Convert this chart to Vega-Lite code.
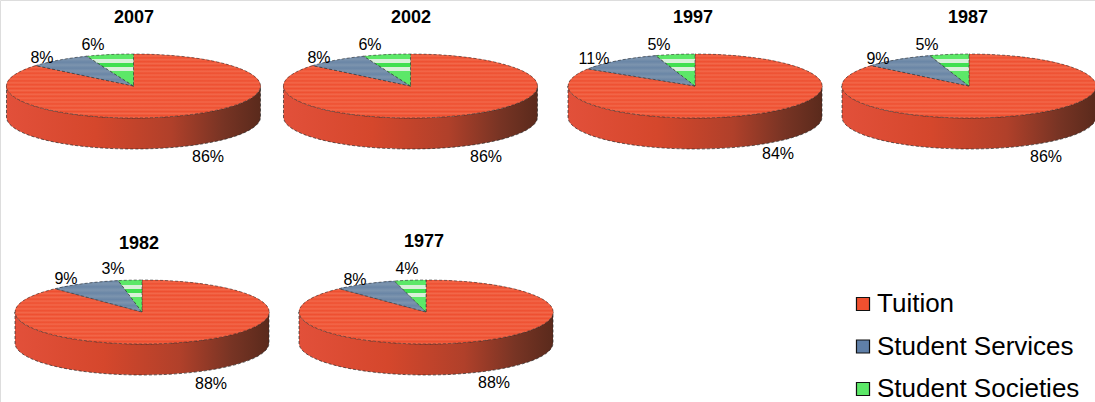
{
"$schema":"https://vega.github.io/schema/vega-lite/v6.json",
"width":1095,"height":402,"padding":0,"autosize":{"type":"none"},"background":"white",
"data":{"values":[
{"n":1,"year":2007,"category":"Tuition","slice":"2007 Tuition","value":0.86},
{"n":2,"year":2007,"category":"Student Services","slice":"2007 Student Services","value":0.08},
{"n":3,"year":2007,"category":"Student Societies","slice":"2007 Student Societies","value":0.06},
{"n":4,"year":2002,"category":"Tuition","slice":"2002 Tuition","value":0.86},
{"n":5,"year":2002,"category":"Student Services","slice":"2002 Student Services","value":0.08},
{"n":6,"year":2002,"category":"Student Societies","slice":"2002 Student Societies","value":0.06},
{"n":7,"year":1997,"category":"Tuition","slice":"1997 Tuition","value":0.84},
{"n":8,"year":1997,"category":"Student Services","slice":"1997 Student Services","value":0.11},
{"n":9,"year":1997,"category":"Student Societies","slice":"1997 Student Societies","value":0.05},
{"n":10,"year":1987,"category":"Tuition","slice":"1987 Tuition","value":0.86},
{"n":11,"year":1987,"category":"Student Services","slice":"1987 Student Services","value":0.09},
{"n":12,"year":1987,"category":"Student Societies","slice":"1987 Student Societies","value":0.05},
{"n":13,"year":1982,"category":"Tuition","slice":"1982 Tuition","value":0.88},
{"n":14,"year":1982,"category":"Student Services","slice":"1982 Student Services","value":0.09},
{"n":15,"year":1982,"category":"Student Societies","slice":"1982 Student Societies","value":0.03},
{"n":16,"year":1977,"category":"Tuition","slice":"1977 Tuition","value":0.88},
{"n":17,"year":1977,"category":"Student Services","slice":"1977 Student Services","value":0.08},
{"n":18,"year":1977,"category":"Student Societies","slice":"1977 Student Societies","value":0.04}
]},
"resolve":{"scale":{"x":"independent","y":"independent","shape":"independent"}},
"layer":[
{"transform":[{"filter":"datum.category==='Tuition'"}],
 "mark":{"type":"point","filled":true,"size":4,"opacity":1,"stroke":"#2a2a2a","strokeWidth":0.7,"strokeDash":[3,2],
  "fill":{"gradient":"linear","x1":0,"y1":0,"x2":1,"y2":0,"stops":[{"offset":0,"color":"#E2503A"},{"offset":0.35,"color":"#D5472C"},{"offset":0.65,"color":"#B0402A"},{"offset":0.85,"color":"#783424"},{"offset":1,"color":"#5A2A1C"}]}},
 "encoding":{
  "x":{"field":"year","type":"quantitative","axis":null,"scale":{"domain":[1977,1982,1987,1997,2002,2007],"range":[426,142,969,695,410.5,133.5],"zero":false,"nice":false}},
  "y":{"field":"year","type":"quantitative","axis":null,"scale":{"domain":[1977,1982,1987,1997,2002,2007],"range":[312,312,86,86,86,86],"zero":false,"nice":false}},
  "shape":{"field":"year","type":"nominal","legend":null,"scale":{"domain":[2007,2002,1997,1987,1982,1977],"range":[
   "M-127 0A127 32 0 0 0 127 0L127 31A127 32 0 0 1 -127 31Z",
   "M-127 0A127 32 0 0 0 127 0L127 31A127 32 0 0 1 -127 31Z",
   "M-127 0A127 32 0 0 0 127 0L127 31A127 32 0 0 1 -127 31Z",
   "M-127 0A127 32 0 0 0 127 0L127 31A127 32 0 0 1 -127 31Z",
   "M-127 0A127 32 0 0 0 127 0L127 31A127 32 0 0 1 -127 31Z",
   "M-127 0A127 32 0 0 0 127 0L127 31A127 32 0 0 1 -127 31Z"]}}
 }},
{"encoding":{
  "x":{"field":"year","type":"quantitative","axis":null,"scale":{"domain":[1977,1982,1987,1997,2002,2007],"range":[426,142,969,695,410.5,133.5],"zero":false,"nice":false}},
  "y":{"field":"year","type":"quantitative","axis":null,"scale":{"domain":[1977,1982,1987,1997,2002,2007],"range":[312,312,86,86,86,86],"zero":false,"nice":false}},
  "shape":{"field":"slice","type":"nominal","legend":null,"scale":{
   "domain":["2007 Tuition","2007 Student Services","2007 Student Societies","2002 Tuition","2002 Student Services","2002 Student Societies","1997 Tuition","1997 Student Services","1997 Student Societies","1987 Tuition","1987 Student Services","1987 Student Societies","1982 Tuition","1982 Student Services","1982 Student Societies","1977 Tuition","1977 Student Services","1977 Student Societies"],
   "range":[
   "M0 0L0 -32A127 32 0 1 1 -97.9 -20.4Z","M0 0L-97.9 -20.4A127 32 0 0 1 -46.7 -29.8Z","M0 0L-46.7 -29.8A127 32 0 0 1 0 -32Z",
   "M0 0L0 -32A127 32 0 1 1 -97.9 -20.4Z","M0 0L-97.9 -20.4A127 32 0 0 1 -46.7 -29.8Z","M0 0L-46.7 -29.8A127 32 0 0 1 0 -32Z",
   "M0 0L0 -32A127 32 0 1 1 -107.2 -17.1Z","M0 0L-107.2 -17.1A127 32 0 0 1 -39.2 -30.4Z","M0 0L-39.2 -30.4A127 32 0 0 1 0 -32Z",
   "M0 0L0 -32A127 32 0 1 1 -97.9 -20.4Z","M0 0L-97.9 -20.4A127 32 0 0 1 -39.2 -30.4Z","M0 0L-39.2 -30.4A127 32 0 0 1 0 -32Z",
   "M0 0L0 -32A127 32 0 1 1 -86.9 -23.3Z","M0 0L-86.9 -23.3A127 32 0 0 1 -23.8 -31.4Z","M0 0L-23.8 -31.4A127 32 0 0 1 0 -32Z",
   "M0 0L0 -32A127 32 0 1 1 -86.9 -23.3Z","M0 0L-86.9 -23.3A127 32 0 0 1 -31.6 -31Z","M0 0L-31.6 -31A127 32 0 0 1 0 -32Z"]}}
 },
 "layer":[
 {"mark":{"type":"point","filled":true,"size":4,"opacity":1},
  "encoding":{"color":{"field":"category","type":"nominal","scale":{"domain":["Tuition","Student Services","Student Societies"],"range":["#F0502F","#5F7FA8","#5CE868"]},
   "legend":{"title":null,"orient":"none","legendX":850,"legendY":291,"symbolType":"square","symbolSize":170,"symbolStrokeColor":"#111111","symbolStrokeWidth":1.2,"labelFont":"Liberation Sans","labelFontSize":26,"labelColor":"#000000","labelOffset":1,"rowPadding":16.5,"labelLimit":300}}}},
 {"transform":[{"filter":"datum.category==='Tuition'"}],
  "mark":{"type":"point","filled":true,"size":4,"opacity":1,"stroke":"#333333","strokeWidth":0.6,"strokeDash":[3,2],
   "fill":{"gradient":"linear","x1":0,"y1":0,"x2":0,"y2":1,"stops":[{"offset":0,"color":"#EE4F30"},{"offset":0.03,"color":"#F2684A"},{"offset":0.06,"color":"#EE4F30"},{"offset":0.09,"color":"#F2684A"},{"offset":0.12,"color":"#EE4F30"},{"offset":0.15,"color":"#F2684A"},{"offset":0.18,"color":"#EE4F30"},{"offset":0.21,"color":"#F2684A"},{"offset":0.24,"color":"#EE4F30"},{"offset":0.27,"color":"#F2684A"},{"offset":0.3,"color":"#EE4F30"},{"offset":0.33,"color":"#F2684A"},{"offset":0.36,"color":"#EE4F30"},{"offset":0.39,"color":"#F2684A"},{"offset":0.42,"color":"#EE4F30"},{"offset":0.45,"color":"#F2684A"},{"offset":0.48,"color":"#EE4F30"},{"offset":0.51,"color":"#F2684A"},{"offset":0.54,"color":"#EE4F30"},{"offset":0.57,"color":"#F2684A"},{"offset":0.6,"color":"#EE4F30"},{"offset":0.63,"color":"#F2684A"},{"offset":0.66,"color":"#EE4F30"},{"offset":0.69,"color":"#F2684A"},{"offset":0.72,"color":"#EE4F30"},{"offset":0.75,"color":"#F2684A"},{"offset":0.78,"color":"#EE4F30"},{"offset":0.81,"color":"#F2684A"},{"offset":0.84,"color":"#EE4F30"},{"offset":0.87,"color":"#F2684A"},{"offset":0.9,"color":"#EE4F30"},{"offset":0.93,"color":"#F2684A"},{"offset":0.96,"color":"#EE4F30"},{"offset":1,"color":"#F2684A"}]}}},
 {"transform":[{"filter":"datum.category==='Student Services'"}],
  "mark":{"type":"point","filled":true,"size":4,"opacity":1,"stroke":"#333333","strokeWidth":0.6,"strokeDash":[3,2],
   "fill":{"gradient":"linear","x1":0,"y1":0,"x2":0,"y2":1,"stops":[{"offset":0,"color":"#6A86A6"},{"offset":0.1,"color":"#7C94AE"},{"offset":0.2,"color":"#6A86A6"},{"offset":0.3,"color":"#7C94AE"},{"offset":0.4,"color":"#6A86A6"},{"offset":0.5,"color":"#7C94AE"},{"offset":0.6,"color":"#6A86A6"},{"offset":0.7,"color":"#7C94AE"},{"offset":0.8,"color":"#6A86A6"},{"offset":0.9,"color":"#7C94AE"},{"offset":1,"color":"#6A86A6"}]}}},
 {"transform":[{"filter":"datum.category==='Student Societies'"}],
  "mark":{"type":"point","filled":true,"size":4,"opacity":1,"stroke":"#333333","strokeWidth":0.6,"strokeDash":[3,2],
   "fill":{"gradient":"linear","x1":0,"y1":0,"x2":0,"y2":1,"stops":[{"offset":0,"color":"#5CE868"},{"offset":0.16,"color":"#5CE868"},{"offset":0.17,"color":"#D8F0D8"},{"offset":0.27,"color":"#D8F0D8"},{"offset":0.28,"color":"#40E050"},{"offset":0.4,"color":"#40E050"},{"offset":0.41,"color":"#D8F0D8"},{"offset":0.53,"color":"#D8F0D8"},{"offset":0.54,"color":"#5CE868"},{"offset":1,"color":"#5CE868"}]}}}
 ]},
{"mark":{"type":"text","font":"Liberation Sans","fontSize":16,"color":"#000000","align":"center","baseline":"middle"},
 "encoding":{
  "x":{"field":"n","type":"quantitative","axis":null,"scale":{"domain":[1,2,3,4,5,6,7,8,9,10,11,12,13,14,15,16,17,18],"range":[208,42,93,486,319,370,778,594,659,1046,878,927,211,66,113,494,355,407],"zero":false,"nice":false}},
  "y":{"field":"n","type":"quantitative","axis":null,"scale":{"domain":[1,2,3,4,5,6,7,8,9,10,11,12,13,14,15,16,17,18],"range":[157,58,45,157,58,45,154,59,45,157,59,45,384,279,269,383,280,269],"zero":false,"nice":false}},
  "text":{"field":"value","type":"quantitative","format":".0%"}
 }},
{"transform":[{"filter":"datum.category==='Tuition'"}],
 "mark":{"type":"text","font":"Liberation Sans","fontSize":18,"fontWeight":"bold","color":"#000000","align":"center","baseline":"middle"},
 "encoding":{
  "x":{"field":"year","type":"quantitative","axis":null,"scale":{"domain":[1977,1982,1987,1997,2002,2007],"range":[424,139,968,693,411,134],"zero":false,"nice":false}},
  "y":{"field":"year","type":"quantitative","axis":null,"scale":{"domain":[1977,1982,1987,1997,2002,2007],"range":[242,244,18,18,18,18],"zero":false,"nice":false}},
  "text":{"field":"year","type":"nominal"}
 }}
]}
